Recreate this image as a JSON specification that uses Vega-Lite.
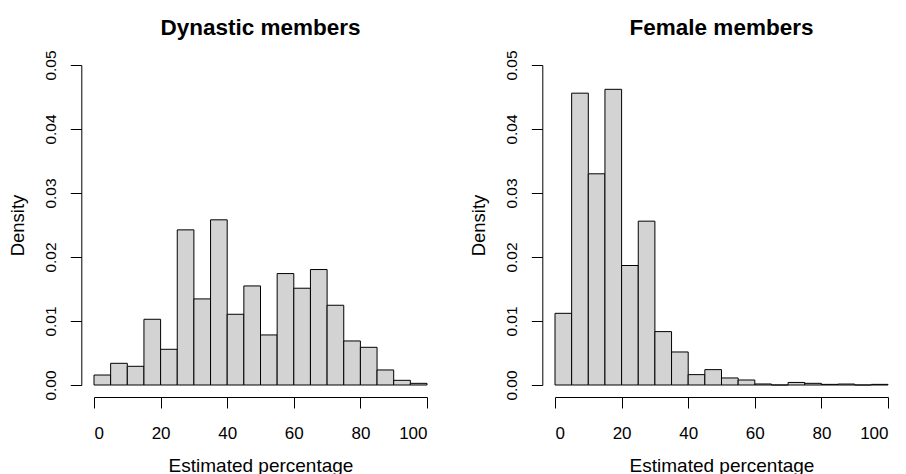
{
  "$schema": "https://vega.github.io/schema/vega-lite/v6.json",
  "padding": {"left": 8, "top": 17, "right": 5, "bottom": 0},
  "background": "white",
  "spacing": 128,
  "bounds": "flush",
  "config": {
    "view": {"stroke": null},
    "font": "Liberation Sans",
    "axis": {
      "grid": false,
      "domainColor": "#000",
      "tickColor": "#000",
      "domainWidth": 1,
      "tickWidth": 1,
      "labelFont": "Liberation Sans",
      "titleFont": "Liberation Sans",
      "titleFontWeight": "normal",
      "labelColor": "#000",
      "titleColor": "#000",
      "tickSize": 11
    },
    "axisX": {"labelFontSize": 17, "titleFontSize": 19},
    "axisY": {"labelFontSize": 15.5, "titleFontSize": 18.5},
    "title": {"font": "Liberation Sans", "fontSize": 22.5, "fontWeight": "bold", "color": "#000", "anchor": "middle", "offset": 10.3}
  },
  "datasets": {
    "dynastic": [
      {"start": 0, "end": 5, "density": 0.00156},
      {"start": 5, "end": 10, "density": 0.00339},
      {"start": 10, "end": 15, "density": 0.00292},
      {"start": 15, "end": 20, "density": 0.01027},
      {"start": 20, "end": 25, "density": 0.00558},
      {"start": 25, "end": 30, "density": 0.02424},
      {"start": 30, "end": 35, "density": 0.01345},
      {"start": 35, "end": 40, "density": 0.02581},
      {"start": 40, "end": 45, "density": 0.01105},
      {"start": 45, "end": 50, "density": 0.01548},
      {"start": 50, "end": 55, "density": 0.00782},
      {"start": 55, "end": 60, "density": 0.01741},
      {"start": 60, "end": 65, "density": 0.01512},
      {"start": 65, "end": 70, "density": 0.01804},
      {"start": 70, "end": 75, "density": 0.01246},
      {"start": 75, "end": 80, "density": 0.00688},
      {"start": 80, "end": 85, "density": 0.00589},
      {"start": 85, "end": 90, "density": 0.00235},
      {"start": 90, "end": 95, "density": 0.00073},
      {"start": 95, "end": 100, "density": 0.00026}
    ],
    "female": [
      {"start": 0, "end": 5, "density": 0.0112},
      {"start": 5, "end": 10, "density": 0.0456},
      {"start": 10, "end": 15, "density": 0.033},
      {"start": 15, "end": 20, "density": 0.0462},
      {"start": 20, "end": 25, "density": 0.01867},
      {"start": 25, "end": 30, "density": 0.0256},
      {"start": 30, "end": 35, "density": 0.00834},
      {"start": 35, "end": 40, "density": 0.00516},
      {"start": 40, "end": 45, "density": 0.00162},
      {"start": 45, "end": 50, "density": 0.0024},
      {"start": 50, "end": 55, "density": 0.0011},
      {"start": 55, "end": 60, "density": 0.00078},
      {"start": 60, "end": 65, "density": 0.00016},
      {"start": 65, "end": 70, "density": 0},
      {"start": 70, "end": 75, "density": 0.0004},
      {"start": 75, "end": 80, "density": 0.00026},
      {"start": 80, "end": 85, "density": 0.0001},
      {"start": 85, "end": 90, "density": 0.00015},
      {"start": 90, "end": 95, "density": 0},
      {"start": 95, "end": 100, "density": 0.0001}
    ]
  },
  "hconcat": [
    {
      "title": "Dynastic members",
      "width": 333,
      "height": 320,
      "data": {"name": "dynastic"},
      "mark": {"type": "rect", "fill": "#D3D3D3", "stroke": "#000", "strokeWidth": 1},
      "encoding": {
        "x": {"field": "start", "type": "quantitative", "scale": {"domain": [0, 100], "nice": false, "zero": false},
              "axis": {"title": "Estimated percentage", "values": [0, 20, 40, 60, 80, 100], "offset": 12, "labelPadding": 17, "titlePadding": 15}},
        "x2": {"field": "end"},
        "y": {"field": "density", "type": "quantitative", "scale": {"domain": [0, 0.05], "nice": false},
              "axis": {"title": "Density", "values": [0, 0.01, 0.02, 0.03, 0.04, 0.05], "format": ".2f", "offset": 12.7, "labelAngle": -90, "labelAlign": "center", "labelBaseline": "alphabetic", "labelPadding": 15, "titlePadding": 16}},
        "y2": {"datum": 0}
      }
    },
    {
      "title": "Female members",
      "width": 333,
      "height": 320,
      "data": {"name": "female"},
      "mark": {"type": "rect", "fill": "#D3D3D3", "stroke": "#000", "strokeWidth": 1},
      "encoding": {
        "x": {"field": "start", "type": "quantitative", "scale": {"domain": [0, 100], "nice": false, "zero": false},
              "axis": {"title": "Estimated percentage", "values": [0, 20, 40, 60, 80, 100], "offset": 12, "labelPadding": 17, "titlePadding": 15}},
        "x2": {"field": "end"},
        "y": {"field": "density", "type": "quantitative", "scale": {"domain": [0, 0.05], "nice": false},
              "axis": {"title": "Density", "values": [0, 0.01, 0.02, 0.03, 0.04, 0.05], "format": ".2f", "offset": 12.7, "labelAngle": -90, "labelAlign": "center", "labelBaseline": "alphabetic", "labelPadding": 15, "titlePadding": 16}},
        "y2": {"datum": 0}
      }
    }
  ]
}
